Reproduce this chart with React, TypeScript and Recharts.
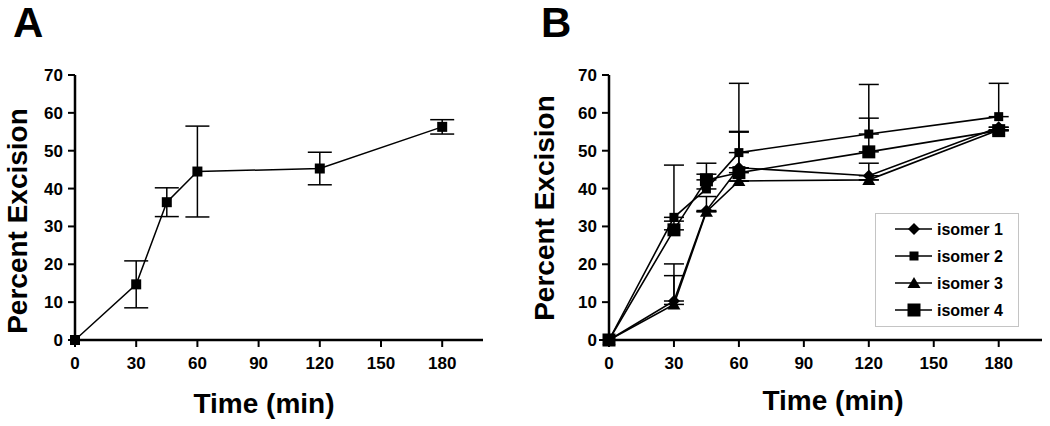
import { LineChart, Line, XAxis, YAxis, ErrorBar } from 'recharts';

// Sampling times (min), shared by both panels
const TIMES = [0, 30, 45, 60, 120, 180];
const X_TICKS = [0, 30, 60, 90, 120, 150, 180];
const Y_TICKS = [0, 10, 20, 30, 40, 50, 60, 70];

// Panel A: mean percent excision with symmetric error
const A_MEAN = [0, 14.7, 36.4, 44.5, 45.3, 56.3];
const A_ERR = [0, 6.2, 3.8, 12.0, 4.3, 1.9];

// Panel B: four isomers, upper error only
const ISOMER_NAMES = ['isomer 1', 'isomer 2', 'isomer 3', 'isomer 4'];
const ISO1 = [0, 10.3, 34.2, 45.5, 43.4, 56.2];
const ISO2 = [0, 32.4, 39.9, 49.5, 54.4, 59.0];
const ISO3 = [0, 9.4, 33.9, 42.0, 42.3, 55.5];
const ISO4 = [0, 29.1, 42.3, 44.2, 49.7, 55.3];
const ISO1_ERR = [0, 9.8, 3.7, 9.6, 3.3, 0];
const ISO2_ERR = [0, 13.8, 6.8, 18.3, 13.1, 8.8];
const ISO3_ERR = [0, 7.6, 0, 0, 0, 0];
const ISO4_ERR = [0, 2.3, 1.5, 10.7, 8.9, 0];

const FONT = '"Liberation Sans", Arial, Helvetica, sans-serif';
const INK = '#000';

const dataA = TIMES.map((t, i) => ({ t, v: A_MEAN[i], e: A_ERR[i] }));

const dataB = TIMES.map((t, i) => ({
  t,
  i1: ISO1[i],
  i1e: [0, ISO1_ERR[i]],
  i2: ISO2[i],
  i2e: [0, ISO2_ERR[i]],
  i3: ISO3[i],
  i3e: [0, ISO3_ERR[i]],
  i4: ISO4[i],
  i4e: [0, ISO4_ERR[i]],
}));

type MarkProps = { cx: number; cy: number; size: number };

function SquareMark({ cx, cy, size }: MarkProps) {
  return <rect x={cx - size / 2} y={cy - size / 2} width={size} height={size} fill={INK} />;
}

function DiamondMark({ cx, cy, size }: MarkProps) {
  const r = size / 2;
  return <polygon points={`${cx},${cy - r} ${cx + r},${cy} ${cx},${cy + r} ${cx - r},${cy}`} fill={INK} />;
}

function TriangleMark({ cx, cy, size }: MarkProps) {
  const r = size / 2;
  return <polygon points={`${cx},${cy - r} ${cx + r + 0.5},${cy + r * 0.85} ${cx - r - 0.5},${cy + r * 0.85}`} fill={INK} />;
}

const MARKS = [
  (p: MarkProps) => <DiamondMark {...p} />,
  (p: MarkProps) => <SquareMark {...p} />,
  (p: MarkProps) => <TriangleMark {...p} />,
  (p: MarkProps) => <SquareMark {...p} />,
];
const MARK_SIZES = [12, 9, 12, 13];
const KEYS = ['i1', 'i2', 'i3', 'i4'];

const tickStyle = { fontSize: 17, fontWeight: 700, fill: INK, fontFamily: FONT };

function axes() {
  return [
    <XAxis
      key="x"
      dataKey="t"
      type="number"
      domain={[0, 200]}
      ticks={X_TICKS}
      axisLine={{ stroke: INK, strokeWidth: 2.5 }}
      tickLine={{ stroke: INK, strokeWidth: 2 }}
      tickSize={7}
      tickMargin={10}
      tick={tickStyle}
      height={30}
    />,
    <YAxis
      key="y"
      type="number"
      domain={[0, 70]}
      ticks={Y_TICKS}
      axisLine={{ stroke: INK, strokeWidth: 2.5 }}
      tickLine={{ stroke: INK, strokeWidth: 2 }}
      tickSize={7}
      tickMargin={5}
      tick={tickStyle}
      width={60}
    />,
  ];
}

function PanelA() {
  return (
    <LineChart width={525} height={426} data={dataA} margin={{ top: 75, right: 42, bottom: 56, left: 15 }}>
      {axes()}
      <Line
        dataKey="v"
        stroke={INK}
        strokeWidth={1.5}
        isAnimationActive={false}
        dot={(p: any) => <SquareMark key={p.index} cx={p.cx} cy={p.cy} size={10} />}
      >
        <ErrorBar dataKey="e" direction="y" width={12} stroke={INK} strokeWidth={1.5} />
      </Line>
    </LineChart>
  );
}

function PanelB() {
  return (
    <LineChart width={525} height={426} data={dataB} margin={{ top: 75, right: 8, bottom: 56, left: 24 }}>
      {axes()}
      {KEYS.map((k, s) => (
        <Line
          key={k}
          dataKey={k}
          name={ISOMER_NAMES[s]}
          stroke={INK}
          strokeWidth={1.6}
          isAnimationActive={false}
          dot={(p: any) => <g key={p.index}>{MARKS[s]({ cx: p.cx, cy: p.cy, size: MARK_SIZES[s] })}</g>}
        >
          <ErrorBar dataKey={`${k}e`} direction="y" width={10} stroke={INK} strokeWidth={1.5} />
        </Line>
      ))}
    </LineChart>
  );
}

function Overlay() {
  const label = { fontFamily: FONT, fontWeight: 700, fill: INK };
  return (
    <svg width={1050} height={426} style={{ position: 'absolute', left: 0, top: 0, pointerEvents: 'none' }}>
      <text x={13} y={37} fontSize={42} {...label}>A</text>
      <text x={541} y={37} fontSize={42} {...label}>B</text>
      <text x={27} y={221} fontSize={28} textAnchor="middle" transform="rotate(-90 27 221)" {...label}>
        Percent Excision
      </text>
      <text x={554} y={208} fontSize={28} textAnchor="middle" transform="rotate(-90 554 208)" {...label}>
        Percent Excision
      </text>
      <text x={264} y={413} fontSize={28} textAnchor="middle" {...label}>Time (min)</text>
      <text x={833} y={410} fontSize={28} textAnchor="middle" {...label}>Time (min)</text>

      {/* legend for panel B */}
      <rect x={875.5} y={213.5} width={143} height={113} fill="#fff" stroke="#c4c4c4" strokeWidth={1} />
      {ISOMER_NAMES.map((name, s) => {
        const cy = 229 + s * 27;
        return (
          <g key={name}>
            <line x1={895} y1={cy} x2={932} y2={cy} stroke={INK} strokeWidth={1.6} />
            {MARKS[s]({ cx: 914, cy, size: MARK_SIZES[s] })}
            <text x={937} y={cy + 6} fontSize={16} {...label}>{name}</text>
          </g>
        );
      })}
    </svg>
  );
}

export default function App() {
  return (
    <div style={{ position: 'absolute', left: 0, top: 0, width: 1050, height: 426, background: '#fff' }}>
      <div style={{ position: 'absolute', left: 0, top: 0 }}>
        <PanelA />
      </div>
      <div style={{ position: 'absolute', left: 525, top: 0 }}>
        <PanelB />
      </div>
      <Overlay />
    </div>
  );
}
